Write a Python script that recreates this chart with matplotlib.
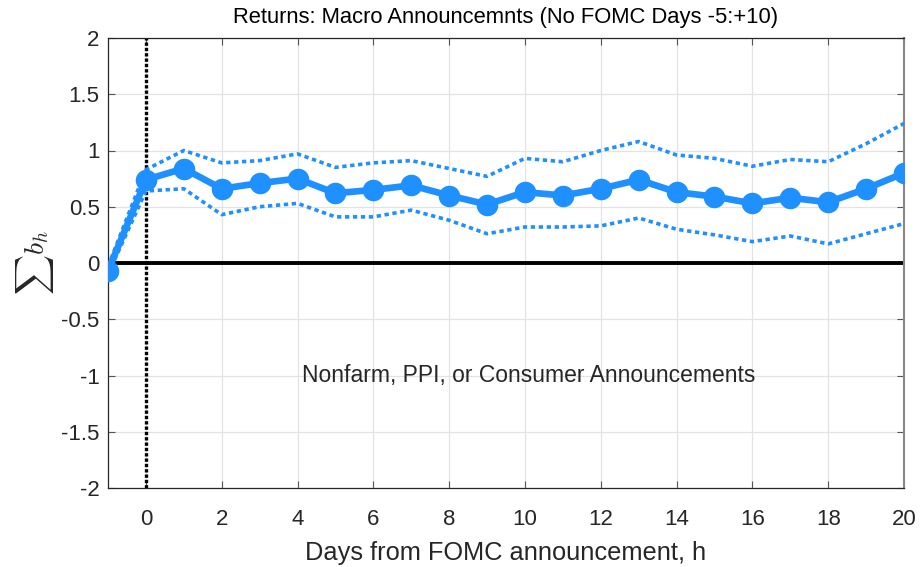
import matplotlib
matplotlib.use('Agg')
from matplotlib import pyplot as plt

plt.rcParams['font.family'] = ['Liberation Sans', 'DejaVu Sans']
plt.rcParams['mathtext.fontset'] = 'cm'

dias = list(range(-1, 21))
coef = [-0.07, 0.74, 0.84, 0.66, 0.71, 0.75, 0.62, 0.65, 0.69, 0.60, 0.52,
        0.63, 0.60, 0.66, 0.74, 0.63, 0.59, 0.53, 0.58, 0.54, 0.66, 0.80]
banda_sup = [-0.03, 0.83, 1.00, 0.89, 0.91, 0.97, 0.85, 0.89, 0.91, 0.84, 0.77,
             0.93, 0.90, 1.00, 1.08, 0.96, 0.93, 0.86, 0.92, 0.90, 1.06, 1.24]
banda_inf = [-0.10, 0.64, 0.66, 0.43, 0.50, 0.53, 0.41, 0.41, 0.47, 0.38, 0.26,
             0.32, 0.32, 0.33, 0.40, 0.30, 0.25, 0.19, 0.24, 0.17, 0.26, 0.35]
xticks = list(range(0, 21, 2))
yticks = [-2, -1.5, -1, -0.5, 0, 0.5, 1, 1.5, 2]
ytick_labels = ['-2', '-1.5', '-1', '-0.5', '0', '0.5', '1', '1.5', '2']

azul = '#1e90ff'
gris = '#262626'

fig = plt.figure(figsize=(9.21, 5.67), dpi=100)
ax = fig.add_axes([108 / 921, 1 - 488 / 567, (904 - 108) / 921, (488 - 38) / 567])

ax.axhline(0, color='black', lw=2.8, zorder=2)
ax.axvline(0, color='black', lw=2.4, ls=(0, (1, 0.6)), zorder=2)

ax.plot(dias, banda_sup, color=azul, lw=2.6, ls=(0, (1.2, 1.0)), zorder=3)
ax.plot(dias, banda_inf, color=azul, lw=2.6, ls=(0, (1.2, 1.0)), zorder=3)
ax.plot(dias, coef, color=azul, lw=4.8, marker='o', markersize=14.5, zorder=4)

ax.text(10.1, -1.0, 'Nonfarm, PPI, or Consumer Announcements',
        ha='center', va='center', fontsize=16.5, color=gris)

ax.set_xlim(-1, 20)
ax.set_ylim(-2, 2)
ax.set_xticks(xticks)
ax.set_yticks(yticks)
ax.set_yticklabels(ytick_labels)
ax.tick_params(direction='in', labelsize=16, colors='#555555', labelcolor=gris,
               length=5, top=True, right=True)
ax.tick_params(axis='x', pad=15)
ax.tick_params(axis='y', pad=6)
ax.grid(True, color='#e3e3e3', lw=0.9)
ax.set_axisbelow(True)
for s in ax.spines.values():
    s.set_color(gris)
    s.set_linewidth(0.9)
ax.spines['right'].set_color('#888888')
ax.spines['right'].set_linewidth(1.5)

ax.set_title('Returns: Macro Announcemnts (No FOMC Days -5:+10)', fontsize=15.8,
             pad=11, color='black')
ax.set_xlabel('Days from FOMC announcement, h', fontsize=18.3, color=gris, labelpad=8)
ax.set_ylabel(r'$\sum b_h$', fontsize=20, color=gris, labelpad=4)

plt.savefig('out.png', dpi=100)
